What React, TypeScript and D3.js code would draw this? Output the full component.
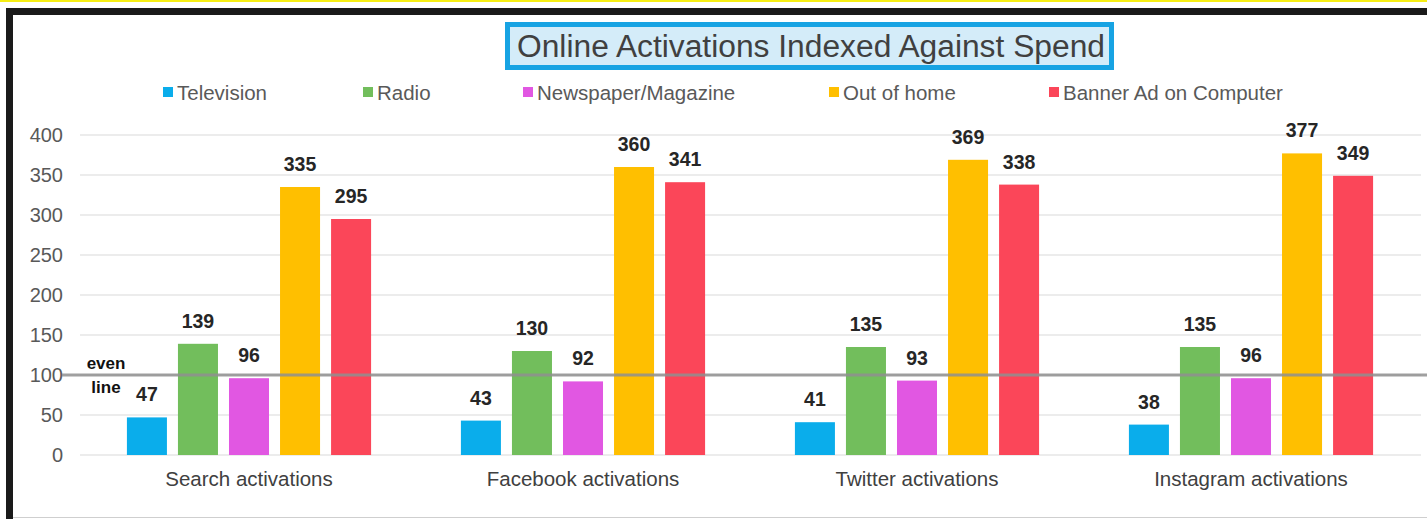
import React from "react";
import * as d3 from "d3";

const categories = ["Search activations", "Facebook activations", "Twitter activations", "Instagram activations"];
const seriesNames = ["Television", "Radio", "Newspaper/Magazine", "Out of home", "Banner Ad on Computer"];
const seriesColors = ["#0AADEB", "#72BE5C", "#E157E2", "#FFBF00", "#FB4659"];
const television = [47, 43, 41, 38];
const radio = [139, 130, 135, 135];
const newspaper = [96, 92, 93, 96];
const outOfHome = [335, 360, 369, 377];
const banner = [295, 341, 338, 349];
const yTicks = [0, 50, 100, 150, 200, 250, 300, 350, 400];
const evenLineValue = 100;
const legendX = [163, 363, 523, 829, 1049];

const seriesValues = [television, radio, newspaper, outOfHome, banner];

export default function App() {
  const W = 1427, H = 519;
  const y = d3.scaleLinear().domain([0, 400]).range([455, 135]);
  const x0 = d3.scaleBand<string>().domain(categories).range([82, 1418]).padding(0);
  const x1 = d3.scaleBand<string>().domain(seriesNames).range([0, x0.bandwidth()]).paddingInner(0.216).paddingOuter(0.88);
  const font = "Arial, 'Liberation Sans', sans-serif";

  return (
    <svg width={W} height={H} style={{ position: "absolute", left: 0, top: 0, display: "block" }} fontFamily={font}>
      <rect x={0} y={0} width={W} height={H} fill="#ffffff" />
      {/* top yellow band */}
      <rect x={0} y={0} width={W} height={2} fill="#F6EE14" />
      {/* black frame */}
      <rect x={6} y={8} width={W - 6} height={7} fill="#1a1a1a" />
      <rect x={6} y={8} width={7} height={H - 8} fill="#1a1a1a" />
      <line x1={13} x2={W} y1={517.5} y2={517.5} stroke="#cfcfcf" strokeWidth={1} />

      {/* title */}
      <rect x={507.5} y={24.5} width={604} height={43} fill="#D4ECF9" stroke="#17A3E3" strokeWidth={5} />
      <text x={811} y={57} textAnchor="middle" fontSize={31} fill="#404040" textLength={588} lengthAdjust="spacingAndGlyphs">Online Activations Indexed Against Spend</text>

      {/* legend */}
      {seriesNames.map((s, i) => (
        <g key={s}>
          <rect x={legendX[i]} y={87} width={10} height={10} fill={seriesColors[i]} />
          <text x={legendX[i] + 14} y={99.5} fontSize={20.5} fill="#595959">{s}</text>
        </g>
      ))}

      {/* gridlines */}
      {yTicks.map((t) => (
        <g key={t}>
          <line x1={80} x2={1421} y1={y(t)} y2={y(t)} stroke="#D9D9D9" strokeWidth={1} />
          <text x={63} y={y(t) + 7} textAnchor="end" fontSize={20} fill="#595959">{t}</text>
        </g>
      ))}

      {/* bars */}
      {categories.map((c, ci) => (
        <g key={c} transform={`translate(${x0(c)},0)`}>
          {seriesNames.map((s, si) => {
            const v = seriesValues[si][ci];
            const bx = x1(s)!;
            return (
              <g key={s}>
                <rect x={bx} y={y(v)} width={x1.bandwidth()} height={y(0) - y(v)} fill={seriesColors[si]} />
                <text x={bx + x1.bandwidth() / 2} y={y(v) - 16} textAnchor="middle" fontSize={19.5} fontWeight="bold" fill="#262626">{v}</text>
              </g>
            );
          })}
          <text x={x0.bandwidth() / 2} y={486} textAnchor="middle" fontSize={20.5} fill="#404040">{c}</text>
        </g>
      ))}

      {/* even line */}
      <line x1={62} x2={W} y1={y(evenLineValue)} y2={y(evenLineValue)} stroke="#8f8f8f" strokeOpacity={0.85} strokeWidth={3} />
      <text x={106} y={369} textAnchor="middle" fontSize={17} fontWeight="bold" fill="#111">even</text>
      <text x={106} y={393} textAnchor="middle" fontSize={17} fontWeight="bold" fill="#111">line</text>
    </svg>
  );
}
